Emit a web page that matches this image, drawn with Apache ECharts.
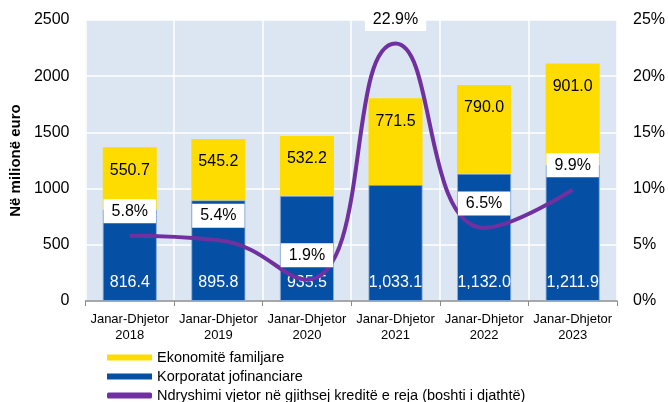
<!DOCTYPE html>
<html><head><meta charset="utf-8">
<script src="https://cdn.jsdelivr.net/npm/echarts@6/dist/echarts.min.js"></script>
<style>html,body{margin:0;padding:0;background:#fff}#c{width:668px;height:402px}</style>
</head><body><div id="c"></div>
<script>
const categories = ['Janar-Dhjetor\n2018','Janar-Dhjetor\n2019','Janar-Dhjetor\n2020','Janar-Dhjetor\n2021','Janar-Dhjetor\n2022','Janar-Dhjetor\n2023'];
const corporates = [816.4, 895.8, 935.5, 1033.1, 1132.0, 1211.9];
const households = [550.7, 545.2, 532.2, 771.5, 790.0, 901.0];
const annualChange = [5.8, 5.4, 1.9, 22.9, 6.5, 9.9];
const leftTicks = {min: 0, max: 2500, interval: 500};
const rightTicks = {min: 0, max: 25, interval: 5};
const names = ['Ekonomitë familjare', 'Korporatat jofinanciare', 'Ndryshimi vjetor në gjithsej kreditë e reja (boshti i djathtë)'];

const FONT = 'Liberation Sans, Arial, sans-serif';
const YELLOW = '#ffdc00', BLUE = '#0550a5', PURPLE = '#7030a0';
const fmt = v => v.toLocaleString('en-US', {minimumFractionDigits: 1, maximumFractionDigits: 1});
const chart = echarts.init(document.getElementById('c'), null, {renderer: 'canvas'});
chart.setOption({
  animation: false,
  textStyle: {fontFamily: FONT},
  grid: {left: 77, right: 51, top: 20, bottom: 101, show: true, backgroundColor: '#dce6f2', borderWidth: 0},
  legend: {
    orient: 'vertical', left: 107, top: 349, padding: 0, itemGap: 2, itemWidth: 45, itemHeight: 6, itemTextGap: 5,
    height: 60,
    textStyle: {fontSize: 14.5, lineHeight: 17, color: '#000', fontFamily: FONT},
    data: [
      {name: names[0], icon: 'rect', itemStyle: {color: YELLOW, borderWidth: 0}},
      {name: names[1], icon: 'rect', itemStyle: {color: BLUE, borderWidth: 0}},
      {name: names[2], icon: 'roundRect', itemStyle: {color: PURPLE, borderWidth: 0}}
    ]
  },
  xAxis: {
    type: 'category', data: categories,
    axisLine: {lineStyle: {color: '#8c8c8c', width: 1.5}},
    axisTick: {show: true, length: 5, interval: 0, lineStyle: {color: '#8c8c8c'}},
    axisLabel: {color: '#000', fontSize: 13, lineHeight: 16, margin: 10, interval: 0, fontFamily: FONT},
    splitLine: {show: true, interval: 0, lineStyle: {color: '#fff', width: 1.5}}
  },
  yAxis: [{
    type: 'value', min: leftTicks.min, max: leftTicks.max, interval: leftTicks.interval,
    name: 'Në milionë euro', nameLocation: 'middle', nameGap: 48, nameRotate: 90,
    nameTextStyle: {fontSize: 15, fontWeight: 'bold', color: '#000', fontFamily: FONT},
    axisLine: {show: false}, axisTick: {show: false},
    axisLabel: {color: '#000', fontSize: 16, margin: 16, fontFamily: FONT, formatter: v => String(v)},
    splitLine: {lineStyle: {color: '#fff', width: 1.5}}
  }, {
    type: 'value', min: rightTicks.min, max: rightTicks.max, interval: rightTicks.interval,
    axisLine: {show: false}, axisTick: {show: false},
    axisLabel: {color: '#000', fontSize: 16, margin: 16, formatter: '{value}%', fontFamily: FONT},
    splitLine: {show: false}
  }],
  series: [{
    name: names[1], type: 'bar', stack: 'total', data: corporates, barWidth: '61%',
    itemStyle: {color: BLUE, borderColor: '#8fb0dc', borderWidth: 0.8},
    label: {show: true, position: 'insideBottom', distance: 10, color: '#fff', fontSize: 16, fontFamily: FONT,
      formatter: p => fmt(p.value)}
  }, {
    name: names[0], type: 'bar', stack: 'total', data: households, barWidth: '61%',
    itemStyle: {color: YELLOW},
    label: {show: true, position: 'insideTop', distance: 15, color: '#000', fontSize: 16, fontFamily: FONT,
      formatter: p => fmt(p.value)}
  }, {
    name: names[2], type: 'line', yAxisIndex: 1, data: annualChange, smooth: 0.5,
    symbol: 'circle', symbolSize: 1, showSymbol: true, z: 5,
    lineStyle: {color: PURPLE, width: 4},
    itemStyle: {color: 'rgba(112,48,160,0)', borderWidth: 0},
    label: {show: true, position: 'top', distance: 12, color: '#000', fontSize: 16, fontFamily: FONT,
      backgroundColor: '#fff', padding: [4, 8],
      formatter: p => p.value.toFixed(1) + '%'}
  }]
});
</script></body></html>
